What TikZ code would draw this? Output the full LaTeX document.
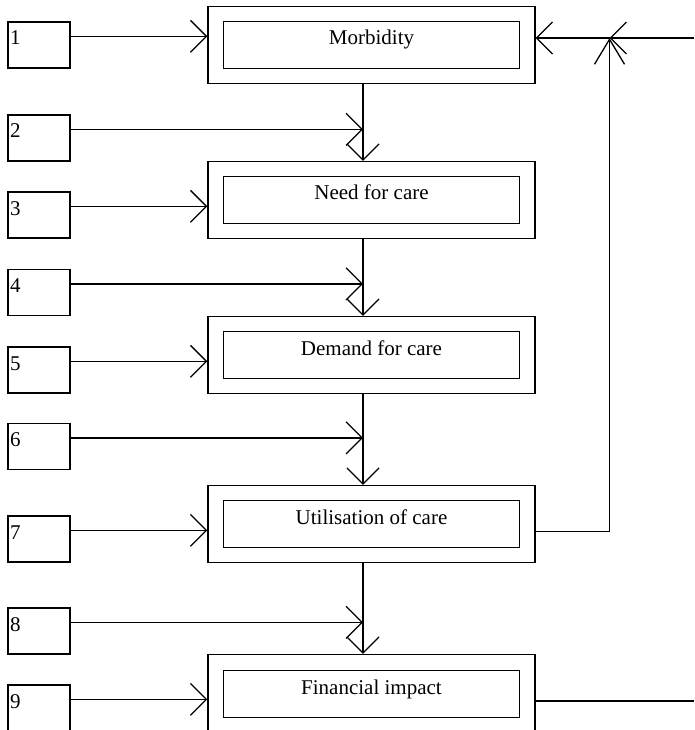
\documentclass[tikz,border=0pt]{standalone}
\usepackage{fontspec}
\setmainfont{Liberation Serif}
\usepackage{tikz}
\usetikzlibrary{positioning}
\usetikzlibrary{arrows.meta}
\tikzstyle{outer} = [rectangle, minimum width=327pt, minimum height=77pt, inner sep=0pt, draw=black, line width=1.3pt]
\tikzstyle{stage} = [rectangle, minimum width=296pt, minimum height=47pt, inner sep=0pt, text height=14pt, text depth=14pt, text centered, draw=black, line width=1.3pt]
\tikzstyle{factor} = [rectangle, minimum width=62pt, minimum height=46pt, inner sep=2pt, text width=58pt, align=left, text height=14pt, text depth=14pt, draw=black, line width=1.3pt]
\tikzstyle{arrow} = [line width=1.3pt,-{Straight Barb[length=16pt,width=32pt]}]
\tikzstyle{uparrow} = [line width=1.3pt,-{Straight Barb[length=25pt,width=30pt]}]

\begin{document}
\begin{tikzpicture}[x=1pt, y=1pt, node distance=155pt, font=\fontsize{21}{25}\selectfont]
        \useasboundingbox (0,0) rectangle (694,-730);
        \node (morbOut) [outer] at (371.5,-45) {};
        \node (needOut) [outer, below of=morbOut] {};
        \node (demandOut) [outer, below of=needOut] {};
        \node (utilOut) [outer, below of=demandOut, yshift=-14pt] {};
        \node (finOut) [outer, below of=utilOut, yshift=-14pt] {};
        \node (morb) [stage] at (morbOut) {Morbidity};
        \node (need) [stage] at (needOut) {Need for care};
        \node (demand) [stage] at (demandOut) {Demand for care};
        \node (util) [stage] at (utilOut) {Utilisation of care};
        \node (fin) [stage, yshift=-1pt] at (finOut) {Financial impact};

        \node (f1) [factor] at (39,-45) {1};
        \node (f2) [factor] at (39,-138) {2};
        \node (f3) [factor] at (39,-215) {3};
        \node (f4) [factor] at (39,-292.5) {4};
        \node (f5) [factor] at (39,-370) {5};
        \node (f6) [factor] at (39,-446.5) {6};
        \node (f7) [factor] at (39,-539) {7};
        \node (f8) [factor] at (39,-631) {8};
        \node (f9) [factor] at (39,-708) {9};

        \coordinate (v1) at ([xshift=-8.5pt]needOut.north);
        \coordinate (v2) at ([xshift=-8.5pt]demandOut.north);
        \coordinate (v3) at ([xshift=-8.5pt]utilOut.north);
        \coordinate (v4) at ([xshift=-8.5pt]finOut.north);
        \coordinate (fb) at (609.5,-38);
        \coordinate (fbIn) at (694,-38);
        \coordinate (finEnd) at (694,-701);

        % main chain
        \draw [arrow] (v1 |- morbOut.south) -- (v1);
        \draw [arrow] (v2 |- needOut.south) -- (v2);
        \draw [arrow] (v3 |- demandOut.south) -- (v3);
        \draw [arrow] (v4 |- utilOut.south) -- (v4);

        % factors into the boxes
        \draw [arrow] ([yshift=-15pt]f1.north east) -- ([yshift=-15pt]f1.north east -| morbOut.west);
        \draw [arrow] ([yshift=-15pt]f3.north east) -- ([yshift=-15pt]f3.north east -| needOut.west);
        \draw [arrow] ([yshift=-15pt]f5.north east) -- ([yshift=-15pt]f5.north east -| demandOut.west);
        \draw [arrow] ([yshift=-15pt]f7.north east) -- ([yshift=-15pt]f7.north east -| utilOut.west);
        \draw [arrow] ([yshift=-15pt]f9.north east) -- ([yshift=-15pt]f9.north east -| finOut.west);

        % factors into the links
        \draw [arrow] ([yshift=-15pt]f2.north east) -- ([yshift=-15pt]f2.north east -| v1);
        \draw [arrow] ([yshift=-15pt]f4.north east) -- ([yshift=-15pt]f4.north east -| v2);
        \draw [arrow] ([yshift=-15pt]f6.north east) -- ([yshift=-15pt]f6.north east -| v3);
        \draw [arrow] ([yshift=-15pt]f8.north east) -- ([yshift=-15pt]f8.north east -| v4);

        % feedback
        \draw [uparrow] ([yshift=-7.5pt]utilOut.east) -| (fb);
        \draw [arrow] (fbIn) -- (fb);
        \draw [arrow] (fb) -- (fb -| morbOut.east);
        \draw [line width=1.3pt] (finOut.east |- finEnd) -- (finEnd);
    \end{tikzpicture}
\end{document}
